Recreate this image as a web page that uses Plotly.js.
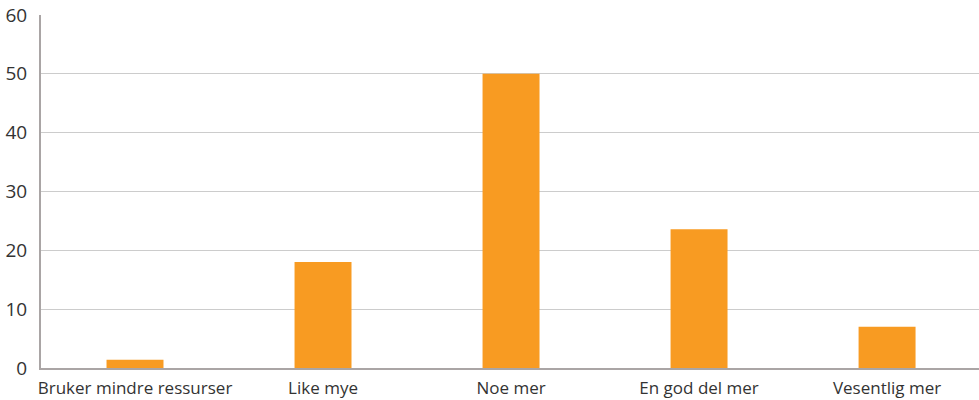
<!DOCTYPE html>
<html>
<head>
<meta charset="utf-8">
<script src="https://cdn.plot.ly/plotly-3.0.1.min.js"></script>
<style>html,body{margin:0;padding:0;background:#fff;}#chart{width:979px;height:400px;}</style>
</head>
<body>
<div id="chart"></div>
<script>
const categories = ["Bruker mindre ressurser", "Like mye", "Noe mer", "En god del mer", "Vesentlig mer"];
const values = [1.4, 18.0, 50.0, 23.6, 7.0];
const yTicks = [0, 10, 20, 30, 40, 50, 60];

const trace = {
  type: 'bar',
  x: categories,
  y: values,
  marker: {color: '#f89b22'},
  hoverinfo: 'x+y'
};

const layout = {
  width: 979,
  height: 400,
  margin: {l: 41, r: 0, t: 15, b: 32, pad: 0},
  paper_bgcolor: '#ffffff',
  plot_bgcolor: '#ffffff',
  bargap: 0.697,
  showlegend: false,
  font: {family: '"Open Sans", sans-serif', size: 16, color: '#333333'},
  xaxis: {
    type: 'category',
    range: [-0.5, 4.489],
    showline: true,
    linecolor: '#aaa5a5',
    linewidth: 2,
    showgrid: false,
    ticks: '',
    ticklabelstandoff: 4,
    tickfont: {family: '"Open Sans", sans-serif', size: 17, color: '#333333'},
    fixedrange: true
  },
  yaxis: {
    range: [0, 60],
    tickvals: yTicks,
    ticktext: yTicks.map(String),
    showline: true,
    linecolor: '#aaa5a5',
    linewidth: 2,
    showgrid: true,
    gridcolor: '#cccccc',
    gridwidth: 1,
    zeroline: false,
    ticks: '',
    ticklabelstandoff: 8,
    tickfont: {family: '"Open Sans", sans-serif', size: 19, color: '#333333'},
    fixedrange: true
  }
};

Plotly.newPlot('chart', [trace], layout, {displayModeBar: false, staticPlot: true});
</script>
</body>
</html>
